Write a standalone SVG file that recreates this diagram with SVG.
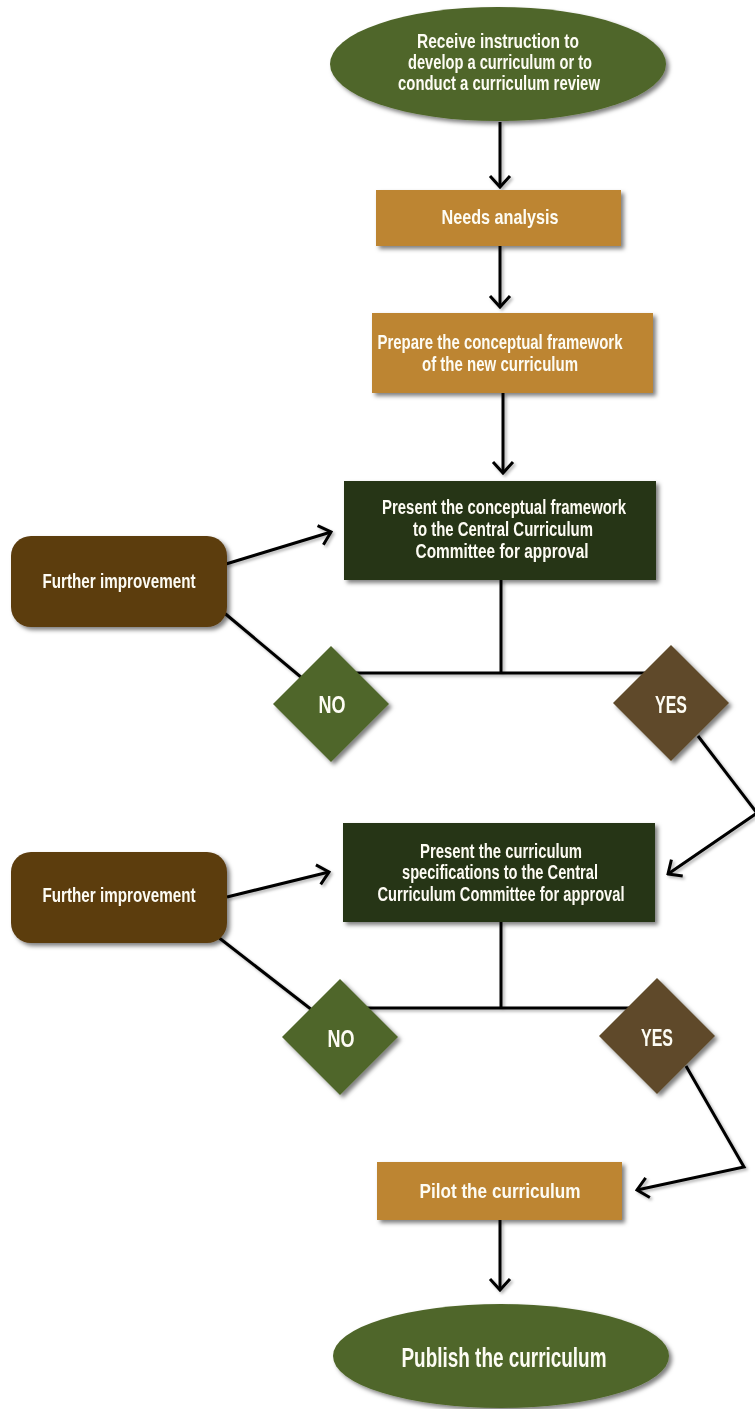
<svg xmlns="http://www.w3.org/2000/svg" width="755" height="1409" viewBox="0 0 755 1409">
  <style>
    .lbl { font-family: "Liberation Sans", "DejaVu Sans", sans-serif; font-weight: bold; fill: #fdfcf4; text-anchor: middle; }
    .s17 { font-size: 19.5px; }
    .s18 { font-size: 19.5px; }
    .s19 { font-size: 20.5px; }
    .s21 { font-size: 21px; }
    .s24 { font-size: 27px; }
    .dec { font-size: 24px; }
    .wire { fill: none; stroke: #000; stroke-width: 3; stroke-linejoin: miter; }
    .oval { fill: #4f6629; }
    .task { fill: #bd8533; }
    .review { fill: #283417; }
    .rework { fill: #5b3c0f; }
    .no { fill: #4f6629; }
    .yes { fill: #5f4a29; }
  </style>
  <defs>
    <filter id="shadow" x="-20%" y="-20%" width="140%" height="140%">
      <feDropShadow dx="3" dy="3" stdDeviation="2" flood-color="#000" flood-opacity="0.5"/>
    </filter>
    <filter id="lineShadow" x="-20%" y="-20%" width="140%" height="140%">
      <feDropShadow dx="2" dy="2" stdDeviation="1.5" flood-color="#000" flood-opacity="0.3"/>
    </filter>
    <marker id="chev" viewBox="-14 -12 16 24" markerWidth="16" markerHeight="24" refX="0" refY="0" orient="auto" markerUnits="userSpaceOnUse">
      <path d="M-11,-10 L0,0 L-11,10" fill="none" stroke="#000" stroke-width="3"/>
    </marker>
  </defs>

  <g id="connectors" filter="url(#lineShadow)">
    <path class="wire" d="M500,122 L500,187" marker-end="url(#chev)"/>
    <path class="wire" d="M500,246 L500,307" marker-end="url(#chev)"/>
    <path class="wire" d="M503,393 L503,473" marker-end="url(#chev)"/>
    <path class="wire" d="M501,580 L501,673"/>
    <path class="wire" d="M330,673 L672,673"/>
    <path class="wire" d="M226,564 L331,532" marker-end="url(#chev)"/>
    <path class="wire" d="M222,611 L302,678"/>
    <path class="wire" d="M698,736 L757,813 L668,874" marker-end="url(#chev)"/>
    <path class="wire" d="M227,897 L329,872" marker-end="url(#chev)"/>
    <path class="wire" d="M218,937 L312,1010"/>
    <path class="wire" d="M501,922 L501,1008"/>
    <path class="wire" d="M340,1008 L657,1008"/>
    <path class="wire" d="M686,1066 L744,1167 L637,1190" marker-end="url(#chev)"/>
    <path class="wire" d="M500,1220 L500,1290" marker-end="url(#chev)"/>
  </g>

  <g id="start" filter="url(#shadow)">
    <ellipse class="oval" cx="498" cy="64" rx="168" ry="57"/>
    <text class="lbl s17" x="498" y="48" textLength="162" lengthAdjust="spacingAndGlyphs">Receive instruction to</text>
    <text class="lbl s17" x="500" y="69" textLength="184" lengthAdjust="spacingAndGlyphs">develop a curriculum or to</text>
    <text class="lbl s17" x="499" y="90" textLength="202" lengthAdjust="spacingAndGlyphs">conduct a curriculum review</text>
  </g>

  <g id="needs" filter="url(#shadow)">
    <rect class="task" x="376" y="190" width="245" height="56"/>
    <text class="lbl s19" x="500" y="224" textLength="117" lengthAdjust="spacingAndGlyphs">Needs analysis</text>
  </g>

  <g id="framework" filter="url(#shadow)">
    <rect class="task" x="372" y="313" width="281" height="80"/>
    <text class="lbl s17" x="500" y="349" textLength="245" lengthAdjust="spacingAndGlyphs">Prepare the conceptual framework</text>
    <text class="lbl s17" x="500" y="371" textLength="156" lengthAdjust="spacingAndGlyphs">of the new curriculum</text>
  </g>

  <g id="present-framework" filter="url(#shadow)">
    <rect class="review" x="344" y="481" width="312" height="99"/>
    <text class="lbl s17" x="504" y="514" textLength="244" lengthAdjust="spacingAndGlyphs">Present the conceptual framework</text>
    <text class="lbl s17" x="503" y="536" textLength="180" lengthAdjust="spacingAndGlyphs">to the Central Curriculum</text>
    <text class="lbl s17" x="502" y="558" textLength="173" lengthAdjust="spacingAndGlyphs">Committee for approval</text>
  </g>

  <g id="improve-1" filter="url(#shadow)">
    <rect class="rework" x="11" y="536" width="216" height="91" rx="20"/>
    <text class="lbl s18" x="119" y="588" textLength="153" lengthAdjust="spacingAndGlyphs">Further improvement</text>
  </g>

  <g id="no-1" filter="url(#shadow)">
    <polygon class="no" points="331,646 389,704 331,762 273,704"/>
    <text class="lbl dec" x="332" y="713" textLength="27" lengthAdjust="spacingAndGlyphs">NO</text>
  </g>

  <g id="yes-1" filter="url(#shadow)">
    <polygon class="yes" points="671,645 729,703 671,761 613,703"/>
    <text class="lbl dec" x="671" y="713" textLength="32" lengthAdjust="spacingAndGlyphs">YES</text>
  </g>

  <g id="present-specs" filter="url(#shadow)">
    <rect class="review" x="343" y="823" width="312" height="99"/>
    <text class="lbl s17" x="501" y="858" textLength="162" lengthAdjust="spacingAndGlyphs">Present the curriculum</text>
    <text class="lbl s17" x="500" y="879" textLength="196" lengthAdjust="spacingAndGlyphs">specifications to the Central</text>
    <text class="lbl s17" x="501" y="901" textLength="247" lengthAdjust="spacingAndGlyphs">Curriculum Committee for approval</text>
  </g>

  <g id="improve-2" filter="url(#shadow)">
    <rect class="rework" x="11" y="852" width="216" height="91" rx="20"/>
    <text class="lbl s18" x="119" y="902" textLength="153" lengthAdjust="spacingAndGlyphs">Further improvement</text>
  </g>

  <g id="no-2" filter="url(#shadow)">
    <polygon class="no" points="340,979 398,1037 340,1095 282,1037"/>
    <text class="lbl dec" x="341" y="1047" textLength="27" lengthAdjust="spacingAndGlyphs">NO</text>
  </g>

  <g id="yes-2" filter="url(#shadow)">
    <polygon class="yes" points="657,978 715,1036 657,1094 599,1036"/>
    <text class="lbl dec" x="657" y="1046" textLength="32" lengthAdjust="spacingAndGlyphs">YES</text>
  </g>

  <g id="pilot" filter="url(#shadow)">
    <rect class="task" x="377" y="1162" width="245" height="58"/>
    <text class="lbl s21" x="500" y="1198" textLength="161" lengthAdjust="spacingAndGlyphs">Pilot the curriculum</text>
  </g>

  <g id="publish" filter="url(#shadow)">
    <ellipse class="oval" cx="501" cy="1356" rx="168" ry="52"/>
    <text class="lbl s24" x="504" y="1367" textLength="205" lengthAdjust="spacingAndGlyphs">Publish the curriculum</text>
  </g>
</svg>
